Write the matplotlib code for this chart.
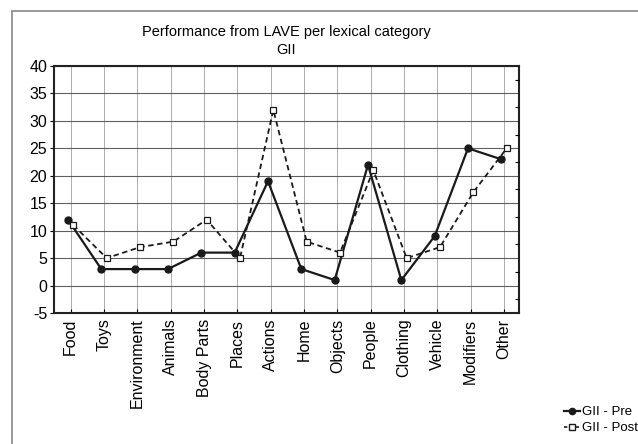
import numpy as np
import matplotlib
matplotlib.use("Agg")
import matplotlib.pyplot as plt
from matplotlib.lines import Line2D
from matplotlib.patches import Rectangle

plt.rcParams['font.family'] = ['Liberation Sans', 'DejaVu Sans']

# data
categories = ["Food", "Toys", "Environment", "Animals", "Body Parts", "Places",
              "Actions", "Home", "Objects", "People", "Clothing", "Vehicle",
              "Modifiers", "Other"]
pre = [12, 3, 3, 3, 6, 6, 19, 3, 1, 22, 1, 9, 25, 23]
post = [11, 5, 7, 8, 12, 5, 32, 8, 6, 21, 5, 7, 17, 25]
y_ticks = [-5, 0, 5, 10, 15, 20, 25, 30, 35, 40]

fig = plt.figure(figsize=(6.38, 4.44), dpi=100)
ax = fig.add_axes([54/638, 1 - 313/444, 465/638, 247/444])

# outer frame like the original export
fig.patches.append(Rectangle((12/638, -0.1), 1.0, 1 - 11/444 + 0.1,
                             transform=fig.transFigure, fill=False,
                             edgecolor="#888888", linewidth=1.2))

x = np.arange(len(categories))
ax.plot(x - 0.08, pre, color="#1a1a1a", linewidth=1.6, marker="o",
        markersize=5, markerfacecolor="#1a1a1a", label="GII - Pre", zorder=3)
ax.plot(x + 0.08, post, color="#1a1a1a", linewidth=1.3, linestyle=(0, (3, 2)),
        marker="s", markersize=5, markerfacecolor="white",
        markeredgewidth=0.9, label="GII - Post", zorder=3)

ax.set_xlim(-0.5, 13.45)
ax.set_ylim(-5, 40)
ax.set_xticks(x)
ax.set_xticklabels(categories, rotation=90, fontsize=11.5)
ax.set_yticks(y_ticks)
ax.set_yticklabels([str(v) for v in y_ticks], fontsize=11.5)
ax.grid(axis="y", color="#444444", linewidth=0.8, alpha=0.85)
ax.grid(axis="x", color="#999999", linewidth=0.7, alpha=0.8)
ax.tick_params(axis="y", length=3, width=0.8, direction="out", pad=2)
ax.tick_params(axis="x", length=3, width=0.8, direction="in", pad=4)
ax.set_axisbelow(True)
for s in ax.spines.values():
    s.set_linewidth(1.5)
    s.set_color("#222222")

# minor ticks on right side
ax2 = ax.twinx()
ax2.set_ylim(-5, 40)
ax2.set_yticks(np.arange(-2.5, 40, 5))
ax2.set_yticklabels([])
ax2.tick_params(axis="y", length=3, direction="in")
for s in ax2.spines.values():
    s.set_visible(False)

ax.set_title("Performance from LAVE per lexical category\nGII", fontsize=10.5,
             pad=9, linespacing=1.3)

handles = [Line2D([], [], color="#1a1a1a", linewidth=1.6, marker="o",
                  markersize=4.5, markerfacecolor="#1a1a1a"),
           Line2D([], [], color="#1a1a1a", linewidth=1.2, linestyle=(0, (2, 1.5)),
                  marker="s", markersize=4.5, markerfacecolor="white")]
fig.legend(handles, ["GII - Pre", "GII - Post"], loc="upper left",
           bbox_to_anchor=(564/638, 1 - 406/444), frameon=False, fontsize=9.5,
           handlelength=1.2, handletextpad=0.15, labelspacing=0.3,
           borderpad=0, borderaxespad=0)

fig.savefig("out.png", dpi=100)
